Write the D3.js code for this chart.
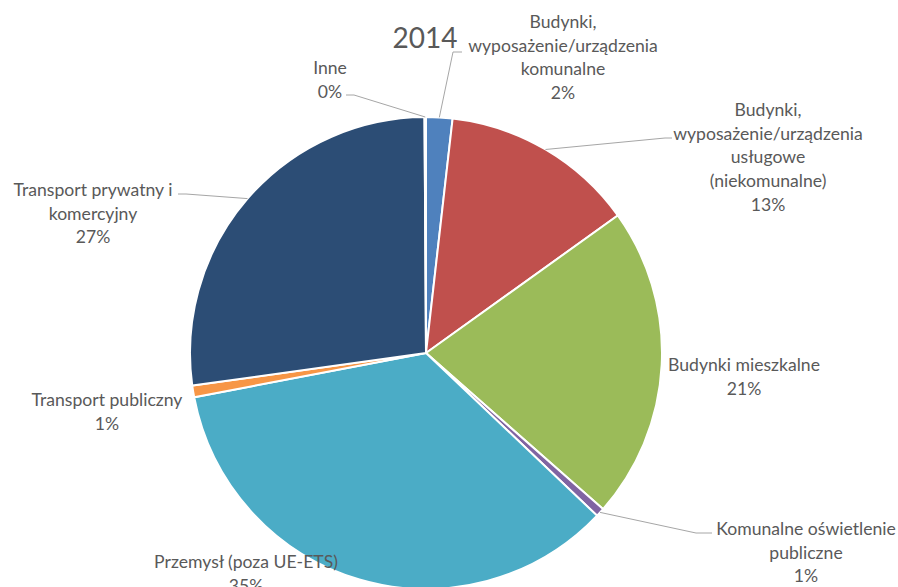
<!DOCTYPE html>
<html>
<head>
<meta charset="utf-8">
<script src="https://cdn.jsdelivr.net/npm/d3@7"></script>
<style>
  html, body { margin: 0; padding: 0; background: #fff; }
  svg { display: block; }
  text { font-family: Lato, "Open Sans", sans-serif; fill: #595959; }
</style>
</head>
<body>
<svg id="chart" width="898" height="587"></svg>
<script>
// Emission shares by sector, 2014 (percent)
const title = "2014";
const categories = [
  "Budynki, wyposażenie/urządzenia komunalne",
  "Budynki, wyposażenie/urządzenia usługowe (niekomunalne)",
  "Budynki mieszkalne",
  "Komunalne oświetlenie publiczne",
  "Przemysł (poza UE-ETS)",
  "Transport publiczny",
  "Transport prywatny i komercyjny",
  "Inne"
];
const values = [1.8, 13.3, 21.4, 0.6, 34.9, 0.8, 27.1, 0.1];
const colors = ["#4F81BD", "#C0504D", "#9BBB59", "#8064A2", "#4BACC6", "#F79646", "#2C4D75", "#772C2A"];

// Label text broken into lines as set in the chart
const labelLines = [
  ["Budynki,", "wyposażenie/urządzenia", "komunalne"],
  ["Budynki,", "wyposażenie/urządzenia", "usługowe", "(niekomunalne)"],
  ["Budynki mieszkalne"],
  ["Komunalne oświetlenie", "publiczne"],
  ["Przemysł (poza UE-ETS)"],
  ["Transport publiczny"],
  ["Transport prywatny i", "komercyjny"],
  ["Inne"]
];

// Label layout: centre x, first-line centre y, optional leader elbow point
const labelLayout = [
  { x: 563, y: 22, elbow: [453, 52], end: [462, 52] },
  { x: 768, y: 110, elbow: [665, 138], end: [672, 138] },
  { x: 744, y: 365 },
  { x: 806, y: 529, elbow: [696, 533], end: [712, 533] },
  { x: 246, y: 562 },
  { x: 107, y: 400 },
  { x: 93, y: 190, elbow: [186, 194], end: [178, 194] },
  { x: 330, y: 68, elbow: [354, 95], end: [346, 95] }
];

const svg = d3.select("#chart");
const cx = 426, cy = 353, radius = 236;
const lineH = 23.6;
const labelSize = 17.6;

const pie = d3.pie().sort(null).value(d => d.value).startAngle(0).endAngle(2 * Math.PI);
const arc = d3.arc().innerRadius(0).outerRadius(radius);
const edge = d3.arc().innerRadius(radius).outerRadius(radius);

const data = categories.map((c, i) => ({ name: c, value: values[i], color: colors[i], lines: labelLines[i], pos: labelLayout[i] }));
const arcs = pie(data);

const g = svg.append("g").attr("transform", `translate(${cx},${cy})`);

g.selectAll("path.slice")
  .data(arcs)
  .join("path")
  .attr("class", "slice")
  .attr("d", arc)
  .attr("fill", d => d.data.color)
  .attr("stroke", "#fff")
  .attr("stroke-width", 2);

// Leader lines from slice edge to label
arcs.forEach(d => {
  const p = d.data.pos;
  if (!p.elbow) return;
  const [ex, ey] = edge.centroid(d);
  const pts = [[cx + ex, cy + ey], p.elbow, p.end];
  svg.append("path")
    .attr("d", d3.line()(pts))
    .attr("fill", "none")
    .attr("stroke", "#a6a6a6")
    .attr("stroke-width", 1);
});

// Labels: category name plus rounded percentage
const total = d3.sum(values);
arcs.forEach(d => {
  const p = d.data.pos;
  const lines = d.data.lines.concat([Math.round(d.data.value / total * 100) + "%"]);
  const t = svg.append("text")
    .attr("text-anchor", "middle")
    .attr("font-size", labelSize);
  lines.forEach((ln, k) => {
    t.append("tspan")
      .attr("x", p.x)
      .attr("y", p.y + k * lineH)
      .attr("dy", "0.35em")
      .text(ln);
  });
});

svg.append("text")
  .attr("x", 425)
  .attr("y", 38)
  .attr("dy", "0.35em")
  .attr("text-anchor", "middle")
  .attr("font-size", 28)
  .text(title);
</script>
</body>
</html>
